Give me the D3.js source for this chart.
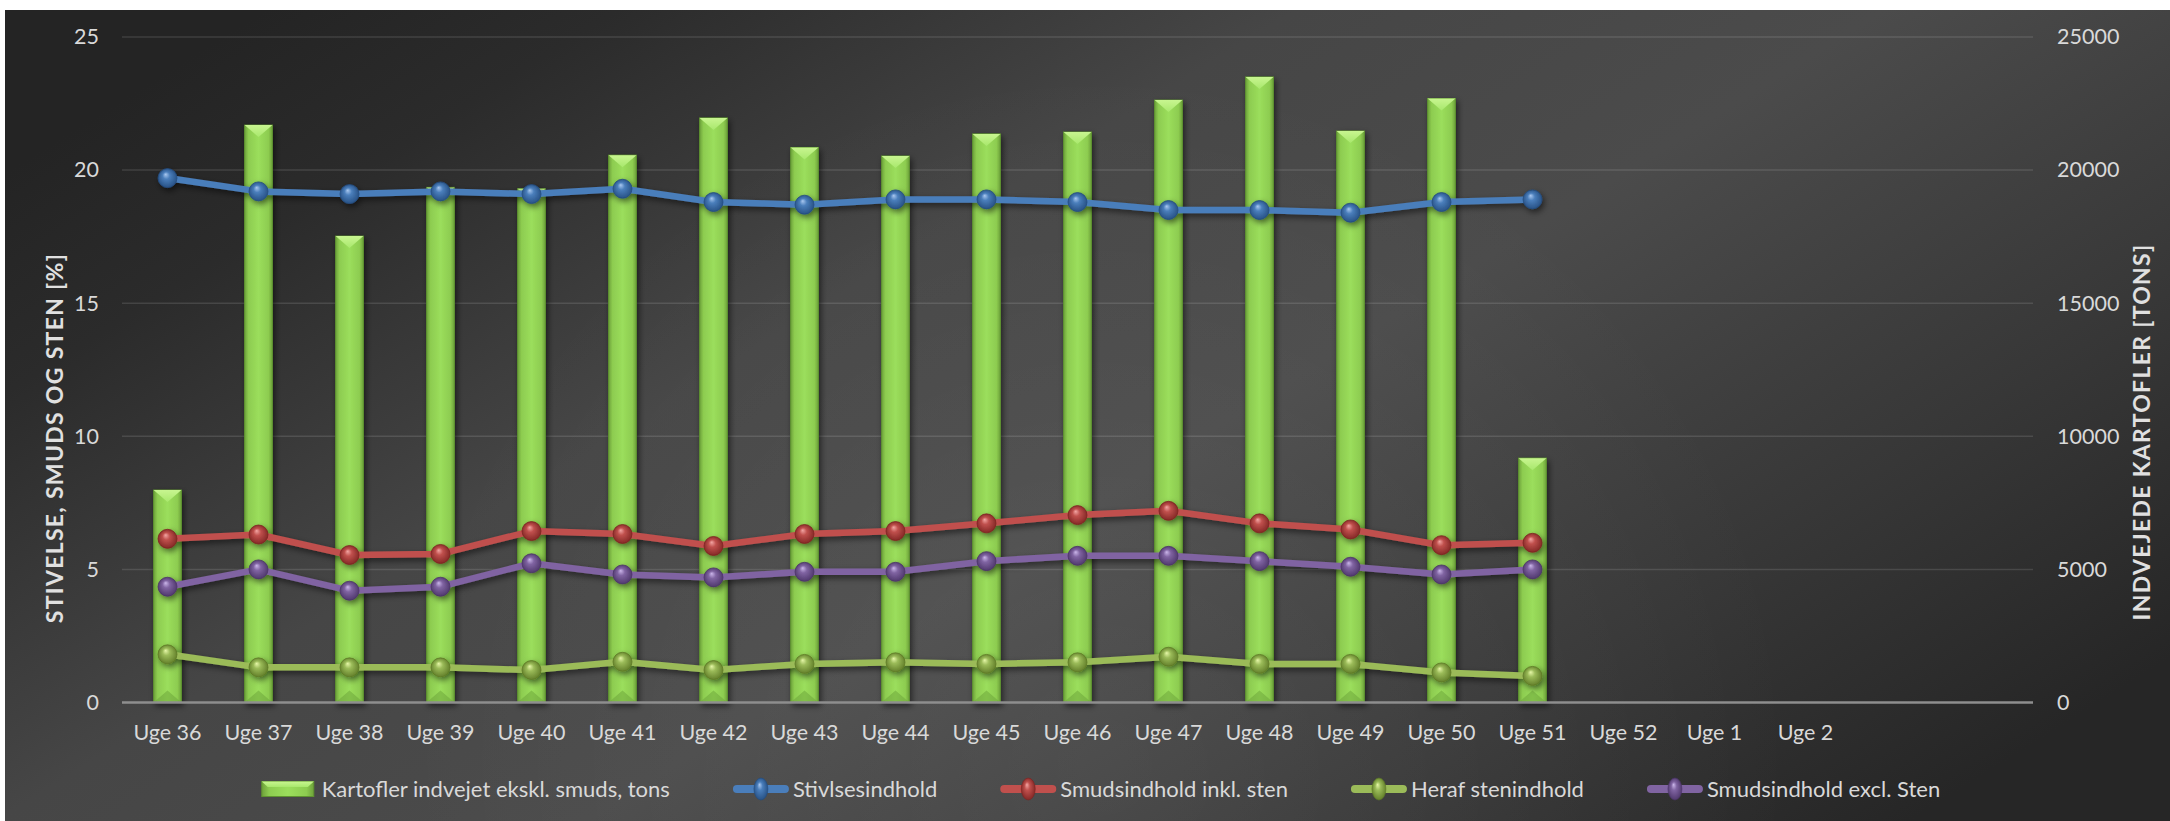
<!DOCTYPE html>
<html>
<head>
<meta charset="utf-8">
<script src="https://cdn.jsdelivr.net/npm/d3@7"></script>
<style>
  html, body { margin: 0; padding: 0; background: #ffffff; }
  svg { display: block; }
  text { font-family: Lato, "Open Sans", sans-serif; }
</style>
</head>
<body>
<div id="chart"></div>
<script>
// categories along the x axis (last two slots are blank in the original)
const categories = ["Uge 36", "Uge 37", "Uge 38", "Uge 39", "Uge 40", "Uge 41", "Uge 42",
  "Uge 43", "Uge 44", "Uge 45", "Uge 46", "Uge 47", "Uge 48", "Uge 49", "Uge 50",
  "Uge 51", "Uge 52", "Uge 1", "Uge 2", "", ""];

// tons weighed in (right axis)
const kartofler = [7980, 21690, 17520, 19350, 19300, 20560, 21960, 20850, 20530,
  21360, 21430, 22630, 23500, 21470, 22690, 9180];

// percentages (left axis)
const stivelse = [19.7, 19.2, 19.1, 19.2, 19.1, 19.3, 18.8, 18.7, 18.9, 18.9, 18.8,
  18.5, 18.5, 18.4, 18.8, 18.9];
const smudsInkl = [6.15, 6.31, 5.54, 5.58, 6.44, 6.33, 5.88, 6.33, 6.44, 6.73, 7.04,
  7.2, 6.73, 6.5, 5.91, 6.0];
const stenindhold = [1.81, 1.32, 1.32, 1.32, 1.22, 1.53, 1.22, 1.45, 1.51, 1.45, 1.51,
  1.72, 1.45, 1.45, 1.13, 1.0];
const smudsExcl = [4.35, 5.0, 4.2, 4.35, 5.23, 4.81, 4.7, 4.91, 4.91, 5.31, 5.51,
  5.51, 5.31, 5.1, 4.81, 5.0];

const leftTicks = [0, 5, 10, 15, 20, 25];
const rightTicks = [0, 5000, 10000, 15000, 20000, 25000];

const barName = "Kartofler indvejet ekskl. smuds, tons";
const lineSeries = [
  { name: "Stivlsesindhold", values: stivelse, color: "#4a7ebb", light: "#a9c8f0", dark: "#244d80" },
  { name: "Smudsindhold inkl. sten", values: smudsInkl, color: "#c0504d", light: "#f3a6a4", dark: "#7e2422" },
  { name: "Heraf stenindhold", values: stenindhold, color: "#9bbb59", light: "#e6f7a8", dark: "#5e7a26" },
  { name: "Smudsindhold excl. Sten", values: smudsExcl, color: "#8064a2", light: "#cbb6ea", dark: "#4b3468" }
];

const W = 2170, H = 821;
const plot = { left: 122, right: 2033, top: 37, bottom: 702.5 };

const svg = d3.select("#chart").append("svg")
  .attr("width", W).attr("height", H);

const defs = svg.append("defs");

// background
const bg = defs.append("linearGradient").attr("id", "bg")
  .attr("x1", "0%").attr("y1", "20%").attr("x2", "100%").attr("y2", "80%");
[[0, "#242424"], [12, "#2b2b2b"], [35, "#464646"], [55, "#4b4b4b"], [80, "#373737"], [100, "#262626"]]
  .forEach(s => bg.append("stop").attr("offset", s[0] + "%").attr("stop-color", s[1]));

const bgGlow = defs.append("radialGradient").attr("id", "bgGlow")
  .attr("gradientUnits", "userSpaceOnUse")
  .attr("cx", 1100).attr("cy", 760).attr("r", 700);
bgGlow.append("stop").attr("offset", "0%").attr("stop-color", "#ffffff").attr("stop-opacity", 0.07);
bgGlow.append("stop").attr("offset", "100%").attr("stop-color", "#ffffff").attr("stop-opacity", 0);

svg.append("rect").attr("x", 5).attr("y", 10).attr("width", W - 5).attr("height", H - 10)
  .attr("fill", "url(#bg)");
svg.append("rect").attr("x", 5).attr("y", 10).attr("width", W - 5).attr("height", H - 10)
  .attr("fill", "url(#bgGlow)");

// bar gradients
const barGrad = defs.append("linearGradient").attr("id", "barGrad")
  .attr("x1", "0%").attr("y1", "0%").attr("x2", "100%").attr("y2", "0%");
[[0, "#6ea23a"], [14, "#8dcc50"], [50, "#9bde5c"], [86, "#8dcc50"], [100, "#6ea23a"]]
  .forEach(s => barGrad.append("stop").attr("offset", s[0] + "%").attr("stop-color", s[1]));

const capGrad = defs.append("linearGradient").attr("id", "capGrad")
  .attr("x1", "0%").attr("y1", "0%").attr("x2", "0%").attr("y2", "100%");
capGrad.append("stop").attr("offset", "0%").attr("stop-color", "#c8f590");
capGrad.append("stop").attr("offset", "100%").attr("stop-color", "#a8e86c");

// marker gradients
lineSeries.forEach((s, i) => {
  const g = defs.append("radialGradient").attr("id", "mk" + i)
    .attr("cx", "50%").attr("cy", "50%").attr("r", "55%")
    .attr("fx", "40%").attr("fy", "30%");
  g.append("stop").attr("offset", "0%").attr("stop-color", s.light);
  g.append("stop").attr("offset", "35%").attr("stop-color", s.color);
  g.append("stop").attr("offset", "100%").attr("stop-color", s.dark);
});

const shadow = defs.append("filter").attr("id", "shadow")
  .attr("x", "-30%").attr("y", "-30%").attr("width", "160%").attr("height", "160%");
shadow.append("feDropShadow").attr("dx", 2).attr("dy", 3).attr("stdDeviation", 3)
  .attr("flood-color", "#000").attr("flood-opacity", 0.55);

// scales
const x = d3.scaleBand().domain(d3.range(categories.length))
  .range([plot.left, plot.right]).padding(0);
const yL = d3.scaleLinear().domain([0, 25]).range([plot.bottom, plot.top]);
const yR = d3.scaleLinear().domain([0, 25000]).range([plot.bottom, plot.top]);
const cx = i => x(i) + x.bandwidth() / 2;

// gridlines
svg.append("g").selectAll("line").data(leftTicks.filter(t => t > 0)).join("line")
  .attr("x1", plot.left).attr("x2", plot.right)
  .attr("y1", d => yL(d)).attr("y2", d => yL(d))
  .attr("stroke", "#ffffff").attr("stroke-opacity", 0.12).attr("stroke-width", 1.5);

// axes
const axisL = svg.append("g").attr("transform", `translate(${plot.left},0)`)
  .call(d3.axisLeft(yL).tickValues(leftTicks).tickSize(0).tickPadding(23));
const axisR = svg.append("g").attr("transform", `translate(${plot.right},0)`)
  .call(d3.axisRight(yR).tickValues(rightTicks).tickSize(0).tickPadding(24).tickFormat(d3.format("d")));
const axisB = svg.append("g").attr("transform", `translate(0,${plot.bottom})`)
  .call(d3.axisBottom(x).tickSize(0).tickFormat(i => categories[i]));

[axisL, axisR, axisB].forEach(a => {
  a.select(".domain").remove();
  a.selectAll("text").attr("fill", "#d9d9d9").style("font-size", "21.5px")
    .style("font-family", "Lato, 'Open Sans', sans-serif");
});
axisB.selectAll("text").attr("y", 30).attr("dy", "0.35em");

// bars
const barW = x.bandwidth() * 0.305;
const bars = svg.append("g").selectAll("g").data(kartofler).join("g")
  .attr("filter", "url(#shadow)");
bars.append("rect")
  .attr("x", (d, i) => cx(i) - barW / 2).attr("y", d => yR(d))
  .attr("width", barW).attr("height", d => plot.bottom - yR(d))
  .attr("fill", "url(#barGrad)").attr("stroke", "#5f9430").attr("stroke-width", 1);
bars.append("path")
  .attr("d", (d, i) => {
    const l = cx(i) - barW / 2, r = cx(i) + barW / 2, t = yR(d);
    return `M${l},${t}L${r},${t}L${cx(i)},${t + 12}Z`;
  })
  .attr("fill", "url(#capGrad)");
bars.append("path")
  .attr("d", (d, i) => {
    const l = cx(i) - barW / 2, r = cx(i) + barW / 2, b = plot.bottom;
    return `M${l},${b}L${r},${b}L${cx(i)},${b - 12}Z`;
  })
  .attr("fill", "#6aa238").attr("opacity", 0.5);

// x axis line (zero line) on top of bars
svg.append("line").attr("x1", plot.left).attr("x2", plot.right)
  .attr("y1", plot.bottom).attr("y2", plot.bottom)
  .attr("stroke", "#8e8e8e").attr("stroke-width", 2.5);

// lines
const line = d3.line().x((d, i) => cx(i)).y(d => yL(d));
lineSeries.forEach((s, si) => {
  const g = svg.append("g").attr("filter", "url(#shadow)");
  g.append("path").datum(s.values).attr("d", line)
    .attr("fill", "none").attr("stroke", s.color).attr("stroke-width", 6.5)
    .attr("stroke-linejoin", "round");
  g.selectAll("circle").data(s.values).join("circle")
    .attr("cx", (d, i) => cx(i)).attr("cy", d => yL(d)).attr("r", 9.5)
    .attr("fill", `url(#mk${si})`).attr("stroke", s.dark).attr("stroke-width", 0.8);
});

// axis titles
svg.append("text")
  .attr("transform", "translate(63,438) rotate(-90)")
  .attr("text-anchor", "middle").attr("fill", "#e0e0e0")
  .style("font-size", "23px").style("font-weight", "bold").style("letter-spacing", "1.3px")
  .text("STIVELSE, SMUDS OG STEN [%]");
svg.append("text")
  .attr("transform", "translate(2150,432) rotate(-90)")
  .attr("text-anchor", "middle").attr("fill", "#e0e0e0")
  .style("font-size", "23px").style("font-weight", "bold").style("letter-spacing", "1.3px")
  .text("INDVEJEDE KARTOFLER [TONS]");

// legend
const legendItems = [{ name: barName, bar: true }].concat(lineSeries.map((s, i) => ({ ...s, idx: i })));
const legend = svg.append("g");
const symW = 56, symGap = 4, itemGap = 63, legY = 789;
let lx = 0;
legendItems.forEach(item => {
  const g = legend.append("g").attr("transform", `translate(${lx},0)`);
  if (item.bar) {
    g.append("rect").attr("x", 0).attr("y", legY - 7.5).attr("width", symW - 4).attr("height", 15)
      .attr("fill", "url(#barGrad)").attr("stroke", "#5f9430");
    g.append("path")
      .attr("d", `M0,${legY - 7.5}L${symW - 4},${legY - 7.5}L${symW - 10},${legY - 2}L6,${legY - 2}Z`)
      .attr("fill", "url(#capGrad)");
  } else {
    g.append("line").attr("x1", 4).attr("x2", symW - 4).attr("y1", legY).attr("y2", legY)
      .attr("stroke", item.color).attr("stroke-width", 8).attr("stroke-linecap", "round");
    g.append("ellipse").attr("cx", symW / 2).attr("cy", legY).attr("rx", 7).attr("ry", 11)
      .attr("fill", `url(#mk${item.idx})`).attr("stroke", item.dark).attr("stroke-width", 0.6);
  }
  const t = g.append("text").attr("x", symW + symGap).attr("y", legY).attr("dy", "0.35em")
    .attr("fill", "#d9d9d9").style("font-size", "22px").text(item.name);
  lx += symW + symGap + t.node().getComputedTextLength() + itemGap;
});
const legW = lx - itemGap;
legend.attr("transform", `translate(${1101 - legW / 2},0)`);
</script>
</body>
</html>
